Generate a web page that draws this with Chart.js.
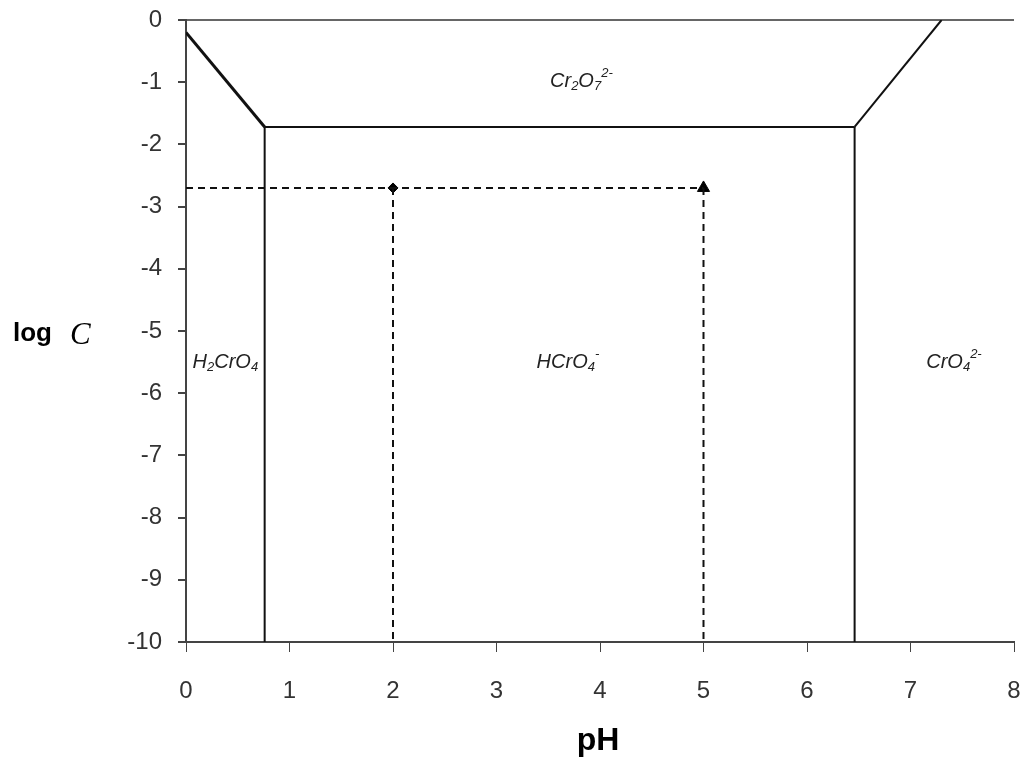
<!DOCTYPE html>
<html><head><meta charset="utf-8">
<script src="https://cdn.jsdelivr.net/npm/chart.js@4.4.1/dist/chart.umd.min.js"></script>
<style>html,body{margin:0;padding:0;background:#fff}#wrap{width:1027px;height:762px}</style>
</head><body><div id="wrap"><canvas id="c" width="1027" height="762"></canvas></div>
<script>
// ---- data ----
const xTicks = [0,1,2,3,4,5,6,7,8];
const yTicks = [0,-1,-2,-3,-4,-5,-6,-7,-8,-9,-10];
const leftSlopeX = [0, 0.76];
const leftSlopeY = [-0.2, -1.72];
const topBoundaryX = [0.76, 6.46];
const topBoundaryY = [-1.72, -1.72];
const rightSlopeX = [6.46, 7.3];
const rightSlopeY = [-1.72, 0];
const leftVertX = [0.76, 0.76];
const leftVertY = [-1.72, -10];
const rightVertX = [6.46, 6.46];
const rightVertY = [-1.72, -10];
const dashHX = [0, 5];
const dashHY = [-2.7, -2.7];
const dash2X = [2, 2];
const dash2Y = [-2.7, -10];
const dash5X = [5, 5];
const dash5Y = [-2.7, -10];
const pointA = [2, -2.7];
const pointB = [5, -2.7];
// species labels: [x, y] and text parts (base, sub, sup)
const speciesPos = [[3.82, -0.98], [0.38, -5.5], [3.69, -5.5], [7.42, -5.5]];
const speciesParts = [
  [["Cr",""],["2","sub"],["O",""],["7","sub"],["2-","sup"]],
  [["H",""],["2","sub"],["CrO",""],["4","sub"]],
  [["HCrO",""],["4","sub"],["-","sup"]],
  [["CrO",""],["4","sub"],["2-","sup"]]
];
const xTitle = "pH";
const yTitleA = "log";
const yTitleB = "C";

function pts(xs, ys){ return xs.map((x,i)=>({x:x, y:ys[i]})); }
function line(xs, ys, w, dash){
  return {data:pts(xs,ys), showLine:true, borderColor:'#111', borderWidth:w, borderDash:dash||[], pointRadius:0, fill:false, tension:0};
}

const textPlugin = {
  id:'textPlugin',
  afterDraw(chart){
    const ctx = chart.ctx, xs = chart.scales.x, ys = chart.scales.y;
    ctx.save();
    ctx.fillStyle = '#222';
    speciesPos.forEach((p, i)=>{
      const parts = speciesParts[i];
      const base = 'italic 20px "Liberation Sans", Arial, sans-serif';
      const small = 'italic 13px "Liberation Sans", Arial, sans-serif';
      let total = 0;
      parts.forEach(([t,k])=>{ ctx.font = k? small: base; total += ctx.measureText(t).width; });
      let cx = xs.getPixelForValue(p[0]) - total/2;
      const cy = ys.getPixelForValue(p[1]);
      ctx.textBaseline = 'middle'; ctx.textAlign = 'left';
      parts.forEach(([t,k])=>{
        ctx.font = k? small: base;
        const dy = k==='sub'? 5 : (k==='sup'? -8 : 0);
        ctx.fillText(t, cx, cy+dy);
        cx += ctx.measureText(t).width;
      });
    });
    // axis titles
    ctx.fillStyle = '#000';
    ctx.textAlign = 'center'; ctx.textBaseline = 'middle';
    ctx.font = 'bold 32px "Liberation Sans", Arial, sans-serif';
    ctx.fillText(xTitle, 598, 741);
    ctx.textAlign = 'left';
    ctx.font = 'bold 26px "Liberation Sans", Arial, sans-serif';
    ctx.fillText(yTitleA, 13, 334);
    ctx.font = 'italic 31px "Liberation Serif", "Times New Roman", serif';
    ctx.fillText(yTitleB, 70, 336);
    ctx.restore();
  }
};

new Chart(document.getElementById('c'), {
  type:'scatter',
  data:{datasets:[
    line(leftSlopeX, leftSlopeY, 3),
    line(topBoundaryX, topBoundaryY, 2),
    line(rightSlopeX, rightSlopeY, 2),
    line(leftVertX, leftVertY, 2),
    line(rightVertX, rightVertY, 2),
    line(dashHX, dashHY, 2, [7,5]),
    line(dash2X, dash2Y, 2, [7,5]),
    line(dash5X, dash5Y, 2, [7,5]),
    {data:[{x:pointA[0],y:pointA[1]}], pointStyle:'rectRot', pointRadius:5, backgroundColor:'#000', borderColor:'#000', showLine:false},
    {data:[{x:pointB[0],y:pointB[1]}], pointStyle:'triangle', pointRadius:7, backgroundColor:'#000', borderColor:'#000', showLine:false}
  ]},
  options:{
    responsive:false, animation:false, devicePixelRatio:1,
    layout:{padding:{left:0, right:13, top:20, bottom:0}},
    plugins:{legend:{display:false}, tooltip:{enabled:false}},
    scales:{
      x:{type:'linear', min:0, max:8,
        afterFit(s){ s.height = 120; s.paddingLeft = 0; s.paddingRight = 0; },
        afterBuildTicks(s){ s.ticks = xTicks.map(v=>({value:v})); },
        border:{display:true, color:'#444', width:2},
        grid:{drawOnChartArea:false, tickLength:10, color:'#444', tickColor:'#444', tickWidth:1},
        ticks:{font:{size:24, family:'"Liberation Sans", Arial, sans-serif'}, color:'#333', padding:25, maxRotation:0}
      },
      y:{type:'linear', min:-10, max:0,
        afterFit(s){ s.width = 186; s.paddingTop = 0; s.paddingBottom = 0; },
        afterBuildTicks(s){ s.ticks = yTicks.map(v=>({value:v})); },
        border:{display:true, color:'#444', width:2},
        grid:{drawOnChartArea:true, tickLength:8, color:(c)=> (c.tick && c.tick.value===0) ? '#666' : 'rgba(0,0,0,0)', tickColor:'#444', lineWidth:2},
        ticks:{font:{size:24, family:'"Liberation Sans", Arial, sans-serif'}, color:'#333', padding:16}
      }
    }
  },
  plugins:[textPlugin]
});
</script></body></html>
